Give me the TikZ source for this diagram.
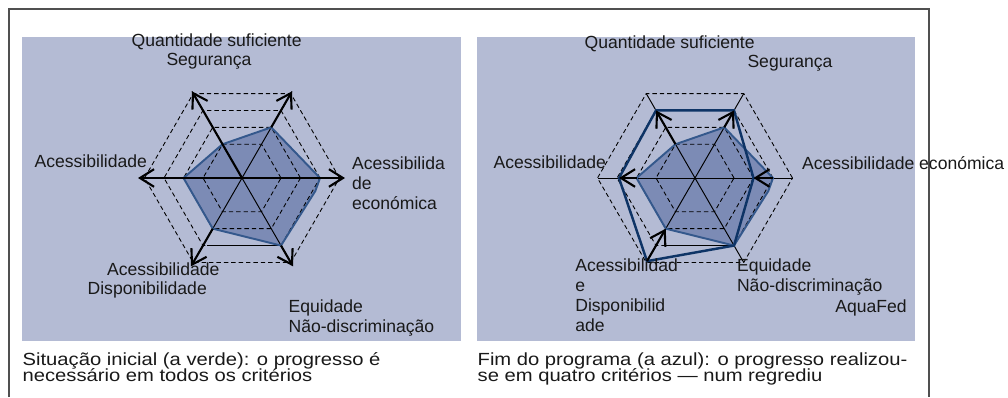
\documentclass[tikz,border=0pt]{standalone}
\usepackage{fontspec}
\setmainfont{Liberation Sans}
\newfontfamily\capfont[FakeStretch=1.15]{Liberation Sans}
\usetikzlibrary{arrows.meta}
\definecolor{panelgray}{RGB}{180,187,212}
\definecolor{areablue}{RGB}{124,139,181}
\definecolor{startline}{RGB}{52,88,140}
\definecolor{endline}{RGB}{14,52,102}
\definecolor{framegray}{RGB}{80,80,80}
\tikzset{
  lbl/.style={font=\fontsize{10}{11.34}\selectfont, inner sep=0pt, align=left, text=black!90},
  capt/.style={font=\capfont\fontsize{10}{12}\selectfont, inner sep=0pt, text=black!90},
  hex/.style={dash pattern=on 2.5pt off 1.7pt, line width=0.5pt},
  spoke/.style={line width=0.55pt},
  bigarrow/.style={line width=1.2pt, -{Straight Barb[length=8pt,width=10pt]}},
}
\begin{document}
\begin{tikzpicture}[x=0.02cm,y=0.02cm]
\useasboundingbox (0,0) rectangle (1008,397);
\draw[framegray, line width=0.6pt] (9,0) -- (9,388) -- (929,388) -- (929,0);
\fill[panelgray] (22,56) rectangle (461,360);
\fill[panelgray] (477,56) rectangle (915,360);
% left radar: start situation
\begin{scope}[shift={(242,219)}]
\fill[areablue] (0:78) -- (60:58.5) -- (120:39) -- (180:58.5) -- (240:58.5) -- (300:78) -- (-10:74.5) -- cycle;
\foreach \r in {39,58.5,78,97.5}
  \draw[hex] (0:\r) -- (60:\r) -- (120:\r) -- (180:\r) -- (240:\r) -- (300:\r) -- cycle;
\draw[spoke] (-35,-67.5) -- (39,-67.5);
\foreach \a in {0,60,...,300}
  \draw[spoke] (0,0) -- (\a:100);
\draw[startline, line width=1.1pt] (0:78) -- (60:58.5) -- (120:39) -- (180:58.5) -- (240:58.5) -- (300:78) -- (-10:74.5) -- cycle;
\draw[bigarrow] (0,0) -- (0:103);
\draw[bigarrow] (0,0) -- (120:100);
\draw[bigarrow] (0,0) -- (180:104);
\draw[bigarrow] (60:58.5) -- (60:100);
\draw[bigarrow] (240:58.5) -- (240:102);
\draw[bigarrow] (300:78) -- (300:102);
\end{scope}
% right radar: end of programme
\begin{scope}[shift={(695,219)}]
\fill[areablue] (0:78) -- (60:58.5) -- (120:39) -- (180:58.5) -- (240:58.5) -- (300:78) -- (-10:74.5) -- cycle;
\foreach \r in {39,58.5,78,97.5}
  \draw[hex] (0:\r) -- (60:\r) -- (120:\r) -- (180:\r) -- (240:\r) -- (300:\r) -- cycle;
\draw[spoke] (-29.25,-50.7) -- (-29.25,-67.5) -- (39,-67.5);
\foreach \a in {0,60,...,300}
  \draw[spoke] (0,0) -- (\a:97.5);
\draw[startline, line width=1.1pt] (0:78) -- (60:58.5) -- (120:39) -- (180:58.5) -- (240:58.5) -- (300:78) -- (-10:74.5) -- cycle;
\draw[endline, line width=1.4pt] (0:58.5) -- (60:78) -- (120:78) -- (180:76) -- (240:96) -- (300:78) -- cycle;
\draw[bigarrow] (120:39) -- (120:78);
\draw[bigarrow] (60:58.5) -- (60:78);
\draw[bigarrow] (180:58.5) -- (180:76);
\draw[bigarrow] (0:78) -- (0:58.5);
\draw[bigarrow] (240:96) -- (240:58.5);
\end{scope}
% labels, left (multi-line nodes sit on their last line)
\node[lbl, anchor=base] (qs1) at (216.7,351) {Quantidade suficiente};
\node[lbl, anchor=base] (sg1) at (209,331.3) {Segurança};
\node[lbl, anchor=base west] (ac1) at (34.3,229.3) {Acessibilidade};
\node[lbl, anchor=base west] (ae1) at (351.7,187.7) {Acessibilida\\de\\económica};
\node[lbl, anchor=base west] (ad1) at (106.7,121.7) {Acessibilidade};
\node[lbl, anchor=base west] (dp1) at (87.3,102.7) {Disponibilidade};
\node[lbl, anchor=base west] (eq1) at (288.3,64.3) {Equidade\\Não-discriminação};
% labels, right
\node[lbl, anchor=base] (qs2) at (669.7,348.5) {Quantidade suficiente};
\node[lbl, anchor=base] (sg2) at (790,329.3) {Segurança};
\node[lbl, anchor=base west] (ac2) at (493.3,228.3) {Acessibilidade};
\node[lbl, anchor=base west] (ae2) at (801.7,227.7) {Acessibilidade económica};
\node[lbl, anchor=base west] (ad2) at (575,66) {Acessibilidad\\e\\Disponibilid\\ade};
\node[lbl, anchor=base west] (eq2) at (736.7,106) {Equidade\\Não-discriminação};
\node[lbl, anchor=base west] (af) at (835,84.3) {AquaFed};
% captions
\node[capt, anchor=base west] (c1) at (22.3,32) {Situação inicial (a verde): o progresso é};
\node[capt, anchor=base west] (c2) at (22.3,15.3) {necessário em todos os critérios};
\node[capt, anchor=base west] (c3) at (477.3,32) {Fim do programa (a azul): o progresso realizou-};
\node[capt, anchor=base west] (c4) at (477.3,15.3) {se em quatro critérios — num regrediu};
\end{tikzpicture}
\end{document}
